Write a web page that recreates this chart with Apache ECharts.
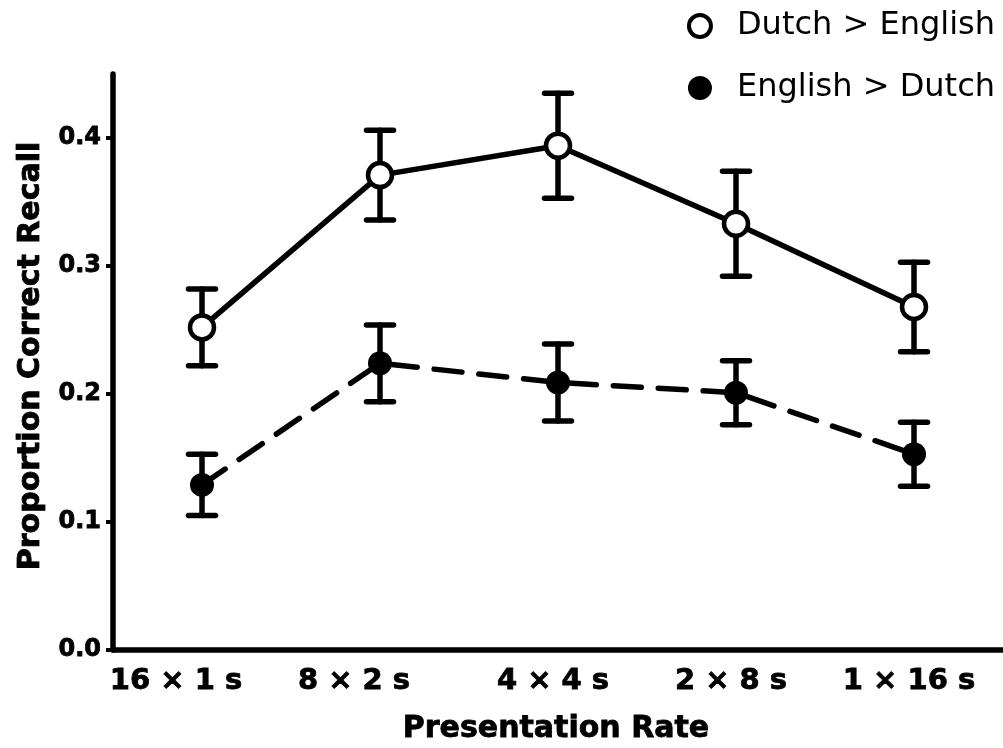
<!DOCTYPE html>
<html>
<head>
<meta charset="utf-8">
<script src="https://cdn.jsdelivr.net/npm/echarts@6/dist/echarts.min.js"></script>
<style>
  html, body { margin: 0; padding: 0; background: #fff; }
  #chart { width: 1003px; height: 748px; }
</style>
</head>
<body>
<div id="chart"></div>
<script>
// Presentation-rate conditions (number of presentations × duration)
const categories = ['16 × 1 s', '8 × 2 s', '4 × 4 s', '2 × 8 s', '1 × 16 s'];
const yTicks = [0, 0.1, 0.2, 0.3, 0.4];

// Mean proportion correct recall and error-bar half-widths
const seriesNames = ['Dutch > English', 'English > Dutch'];
const dutchEnglish = [0.252, 0.371, 0.394, 0.333, 0.268];
const dutchEnglishErr = [0.030, 0.035, 0.041, 0.041, 0.035];
const englishDutch = [0.129, 0.224, 0.209, 0.201, 0.153];
const englishDutchErr = [0.024, 0.030, 0.030, 0.025, 0.025];

const FONT = '"DejaVu Sans", Verdana, sans-serif';
// A hairline outline in the text colour gives the bold labels a heavier stroke
const heavy = { textBorderColor: '#000', textBorderWidth: 0.8 };

function errorData(means, errs) {
  return means.map((m, i) => [i, m - errs[i], m + errs[i]]);
}

function renderErrorBar(params, api) {
  const x = api.value(0);
  const lo = api.coord([x, api.value(1)]);
  const hi = api.coord([x, api.value(2)]);
  const half = 13.5;
  const style = { stroke: '#000', lineWidth: 5.5, lineCap: 'round' };
  return {
    type: 'group',
    children: [
      { type: 'line', shape: { x1: lo[0], y1: lo[1], x2: hi[0], y2: hi[1] }, style },
      { type: 'line', shape: { x1: hi[0] - half, y1: hi[1], x2: hi[0] + half, y2: hi[1] }, style },
      { type: 'line', shape: { x1: lo[0] - half, y1: lo[1], x2: lo[0] + half, y2: lo[1] }, style }
    ]
  };
}

// Small per-label shifts so each rate label sits where it is set in the figure
const labelShift = ['far', 'far', 'near', 'near', 'near'];

const chart = echarts.init(document.getElementById('chart'), null, { renderer: 'canvas' });

chart.setOption({
  animation: false,
  backgroundColor: '#fff',
  grid: { left: 113, right: -2, top: 74, bottom: 98, containLabel: false },
  legend: {
    orient: 'vertical',
    right: 8,
    top: 6,
    padding: 0,
    itemWidth: 64,
    itemHeight: 22,
    itemGap: 22,
    icon: 'circle',
    selectedMode: false,
    textStyle: { fontFamily: FONT, fontSize: 32, color: '#000', lineHeight: 40 },
    data: [
      { name: seriesNames[0], itemStyle: { color: '#fff', borderColor: '#000', borderWidth: 4 } },
      { name: seriesNames[1], itemStyle: { color: '#000', borderColor: '#000', borderWidth: 2 } }
    ]
  },
  xAxis: {
    type: 'category',
    data: categories,
    boundaryGap: true,
    axisLine: { lineStyle: { color: '#000', width: 5.5 } },
    axisTick: { alignWithLabel: true, inside: false, length: 8, lineStyle: { color: '#000', width: 4, cap: 'round' } },
    axisLabel: {
      margin: 17,
      interval: 0,
      formatter: (v, i) => '{' + labelShift[i] + '|' + v + '}',
      rich: {
        far: Object.assign({ fontFamily: FONT, fontSize: 29, fontWeight: 'bold', color: '#000', padding: [0, 52, 0, 0] }, heavy),
        near: Object.assign({ fontFamily: FONT, fontSize: 29, fontWeight: 'bold', color: '#000', padding: [0, 10, 0, 0] }, heavy)
      }
    },
    splitLine: { show: false }
  },
  yAxis: {
    type: 'value',
    min: 0,
    max: 0.45,
    interval: 0.1,
    axisLine: { show: true, lineStyle: { color: '#000', width: 5.5, cap: 'round' } },
    axisTick: { show: true, customValues: yTicks, length: 7, lineStyle: { color: '#000', width: 4 } },
    axisLabel: Object.assign({
      customValues: yTicks,
      margin: 12,
      fontFamily: FONT,
      fontSize: 24,
      fontWeight: 'bold',
      color: '#000',
      formatter: v => v.toFixed(1)
    }, heavy),
    splitLine: { show: false }
  },
  graphic: [
    {
      type: 'text',
      x: 556, y: 729,
      style: Object.assign({
        text: 'Presentation Rate',
        fontFamily: FONT, fontSize: 30, fontWeight: 'bold', fill: '#000',
        textAlign: 'center', textVerticalAlign: 'middle'
      }, { stroke: '#000', lineWidth: 0.8 })
    },
    {
      type: 'text',
      x: 31, y: 356,
      rotation: Math.PI / 2,
      style: Object.assign({
        text: 'Proportion Correct Recall',
        fontFamily: FONT, fontSize: 30, fontWeight: 'bold', fill: '#000',
        textAlign: 'center', textVerticalAlign: 'middle'
      }, { stroke: '#000', lineWidth: 0.8 })
    }
  ],
  series: [
    {
      type: 'custom',
      name: 'err-de',
      renderItem: renderErrorBar,
      encode: { x: 0, y: [1, 2] },
      data: errorData(dutchEnglish, dutchEnglishErr),
      z: 1,
      silent: true
    },
    {
      type: 'custom',
      name: 'err-ed',
      renderItem: renderErrorBar,
      encode: { x: 0, y: [1, 2] },
      data: errorData(englishDutch, englishDutchErr),
      z: 1,
      silent: true
    },
    {
      type: 'line',
      name: seriesNames[0],
      data: dutchEnglish,
      symbol: 'circle',
      symbolSize: 24,
      itemStyle: { color: '#fff', borderColor: '#000', borderWidth: 4.5 },
      lineStyle: { color: '#000', width: 5.5 },
      z: 3
    },
    {
      type: 'line',
      name: seriesNames[1],
      data: englishDutch,
      symbol: 'circle',
      symbolSize: 24,
      itemStyle: { color: '#000', borderColor: '#000', borderWidth: 0 },
      lineStyle: { color: '#000', width: 5.5, type: [28, 17], cap: 'round' },
      z: 3
    }
  ]
});
</script>
</body>
</html>
